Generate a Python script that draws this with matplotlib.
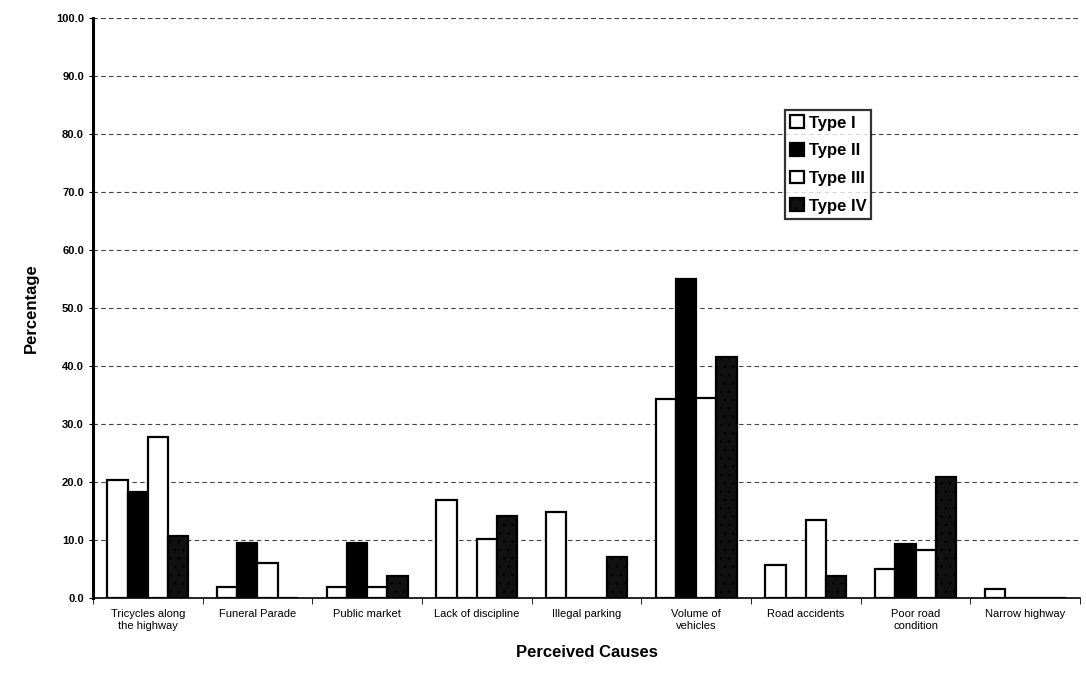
import numpy as np
import matplotlib
matplotlib.use("Agg")
import matplotlib.pyplot as plt

plt.rcParams['font.family'] = ['Liberation Sans', 'DejaVu Sans']
plt.rcParams['hatch.color'] = 'white'
plt.rcParams['hatch.linewidth'] = 0.6

# data
causes = ["Tricycles along\nthe highway", "Funeral Parade", "Public market",
          "Lack of discipline", "Illegal parking", "Volume of\nvehicles",
          "Road accidents", "Poor road\ncondition", "Narrow highway"]
type_1 = [20.3, 1.9, 1.9, 16.9, 14.8, 34.3, 5.6, 5.0, 1.5]
type_2 = [18.3, 9.4, 9.4, 0.0, 0.0, 55.0, 0.0, 9.3, 0.0]
type_3 = [27.8, 6.0, 1.9, 10.2, 0.0, 34.5, 13.4, 8.2, 0.0]
type_4 = [10.6, 0.0, 3.8, 14.1, 7.1, 41.6, 3.7, 20.9, 0.0]
series_names = ["Type I", "Type II", "Type III", "Type IV"]
y_ticks = np.arange(0, 101, 10)

fig = plt.figure(figsize=(10.86, 6.81), dpi=100)
ax = fig.add_axes([0.0856, 0.122, 0.9089, 0.8516])

x = np.arange(len(causes))
w = 0.185
series = [type_1, type_2, type_3, type_4]
faces = ['white', 'black', 'white', '#111111']
hatches = [None, None, None, '..']
for i, (vals, name) in enumerate(zip(series, series_names)):
    ax.bar(x + (i - 1.5) * w, vals, width=w, color=faces[i], edgecolor='black',
           linewidth=1.6, hatch=hatches[i], label=name, zorder=3)

ax.set_xlim(-0.5, len(causes) - 0.5)
ax.set_ylim(0, 100)
ax.set_yticks(y_ticks)
ax.set_yticklabels([f"{v:.1f}" for v in y_ticks], fontsize=8, fontweight='bold')
ax.set_xticks(x)
ax.set_xticklabels(causes, fontsize=8)
ax.set_xticks(np.arange(-0.5, len(causes)), minor=True)
ax.tick_params(axis='x', which='major', length=0, pad=8)
ax.tick_params(axis='x', which='minor', length=4, direction='out')
ax.tick_params(axis='y', length=3)

ax.grid(axis='y', linestyle=(0, (4, 3)), color='#444444', linewidth=0.8, zorder=0)
ax.axhline(100, linestyle=(0, (4, 3)), color='#444444', linewidth=0.8, zorder=0)
for s in ['top', 'right']:
    ax.spines[s].set_visible(False)
ax.spines['left'].set_linewidth(2.2)
ax.spines['bottom'].set_linewidth(1.2)

ax.set_ylabel("Percentage", fontsize=12, fontweight='bold', labelpad=12)
ax.set_xlabel("Perceived Causes", fontsize=12, fontweight='bold', labelpad=10)

leg = ax.legend(loc='upper left', bbox_to_anchor=(0.693, 0.855), fontsize=12,
                frameon=True, fancybox=False, edgecolor='black',
                handlelength=0.8, handleheight=0.8, handletextpad=0.3,
                labelspacing=0.75, borderpad=0.3)
leg.get_frame().set_linewidth(1.6)
for t in leg.get_texts():
    t.set_fontweight('bold')

fig.savefig("out.png", dpi=100)
